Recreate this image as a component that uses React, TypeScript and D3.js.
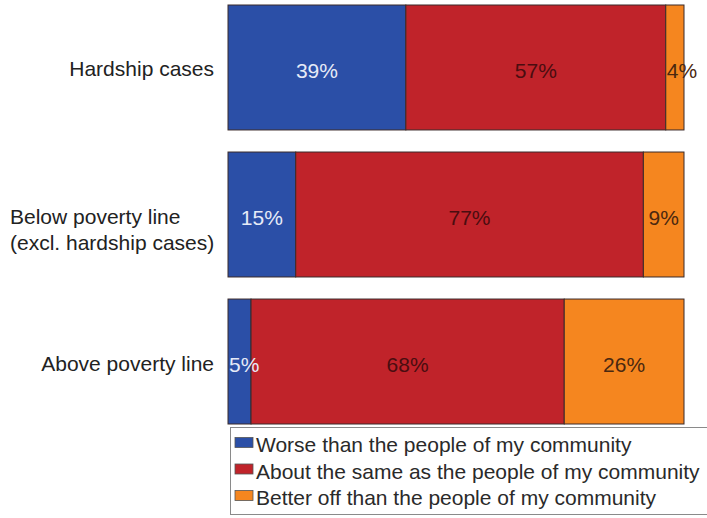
import React from "react";
import * as d3 from "d3";

const categories = ["Hardship cases", "Below poverty line\n(excl. hardship cases)", "Above poverty line"];
const seriesNames = [
  "Worse than the people of my community",
  "About the same as the people of my community",
  "Better off than the people of my community",
];
const worse = [39, 15, 5];
const same = [57, 77, 68];
const better = [4, 9, 26];

const colors = ["#2b4fa7", "#c0232a", "#f5861f"];
const labelColors = ["#e6ebf7", "#4a0d10", "#4a2810"];

const W = 707;
const H = 518;
const FONT = "'Liberation Sans', Arial, sans-serif";

function textWidth(s: string, size: number) {
  // approximate Arial metrics
  const w: Record<string, number> = { "%": 0.889 };
  let t = 0;
  for (const c of s) t += w[c] ?? 0.556;
  return t * size;
}

export default function App() {
  const series = [worse, same, better];
  const rows = categories.map((c, i) => {
    const vals = series.map((s) => s[i]);
    const total = d3.sum(vals);
    let acc = 0;
    const segs = vals.map((v, k) => {
      const x0 = acc / total;
      acc += v;
      return { k, v, x0, x1: acc / total };
    });
    return { c, segs };
  });

  const y = d3.scaleBand<string>().domain(categories).range([5, 424]).paddingInner(0.15).paddingOuter(0);
  const x = d3.scaleLinear().domain([0, 1]).range([228, 684]);
  const fs = 21;

  return (
    <svg
      width={W}
      height={H}
      style={{ position: "absolute", left: 0, top: 0, background: "#fff" }}
      fontFamily={FONT}
    >
      {rows.map((r) => {
        const y0 = y(r.c)!;
        const bh = y.bandwidth();
        const cy = y0 + bh / 2;
        const lines = r.c.split("\n");
        return (
          <g key={r.c}>
            {r.segs.map((s) => (
              <rect
                key={s.k}
                x={x(s.x0)}
                y={y0}
                width={x(s.x1) - x(s.x0)}
                height={bh}
                fill={colors[s.k]}
                stroke="#3a2a2a"
                strokeWidth={1}
              />
            ))}
            {r.segs.map((s) => {
              const label = `${s.v}%`;
              const segW = x(s.x1) - x(s.x0);
              const tw = textWidth(label, fs);
              const fits = tw < segW - 2;
              return (
                <text
                  key={"l" + s.k}
                  x={fits ? (x(s.x0) + x(s.x1)) / 2 : x(s.x0) + 1}
                  y={cy + 10.5}
                  textAnchor={fits ? "middle" : "start"}
                  fontSize={fs}
                  fill={labelColors[s.k]}
                >
                  {label}
                </text>
              );
            })}
            {lines.length === 1 ? (
              <text x={214} y={cy + 9} textAnchor="end" fontSize={fs} fill="#222">
                {lines[0]}
              </text>
            ) : (
              <text x={10} y={cy + 9} textAnchor="start" fontSize={fs} fill="#222">
                {lines.map((l, i) => (
                  <tspan key={i} x={10} dy={i === 0 ? 0 : 26}>
                    {l}
                  </tspan>
                ))}
              </text>
            )}
          </g>
        );
      })}
      <g>
        <rect x={230.5} y={427.5} width={500} height={87} fill="#fff" stroke="#8a8a8a" strokeWidth={1} />
        {seriesNames.map((n, i) => (
          <g key={n} transform={`translate(0, ${452 + i * 26.5})`}>
            <rect x={235} y={-14.5} width={18} height={10} fill={colors[i]} stroke="#555" strokeWidth={0.8} />
            <text x={256} y={0} fontSize={fs} fill="#2a2a2a">
              {n}
            </text>
          </g>
        ))}
      </g>
    </svg>
  );
}
